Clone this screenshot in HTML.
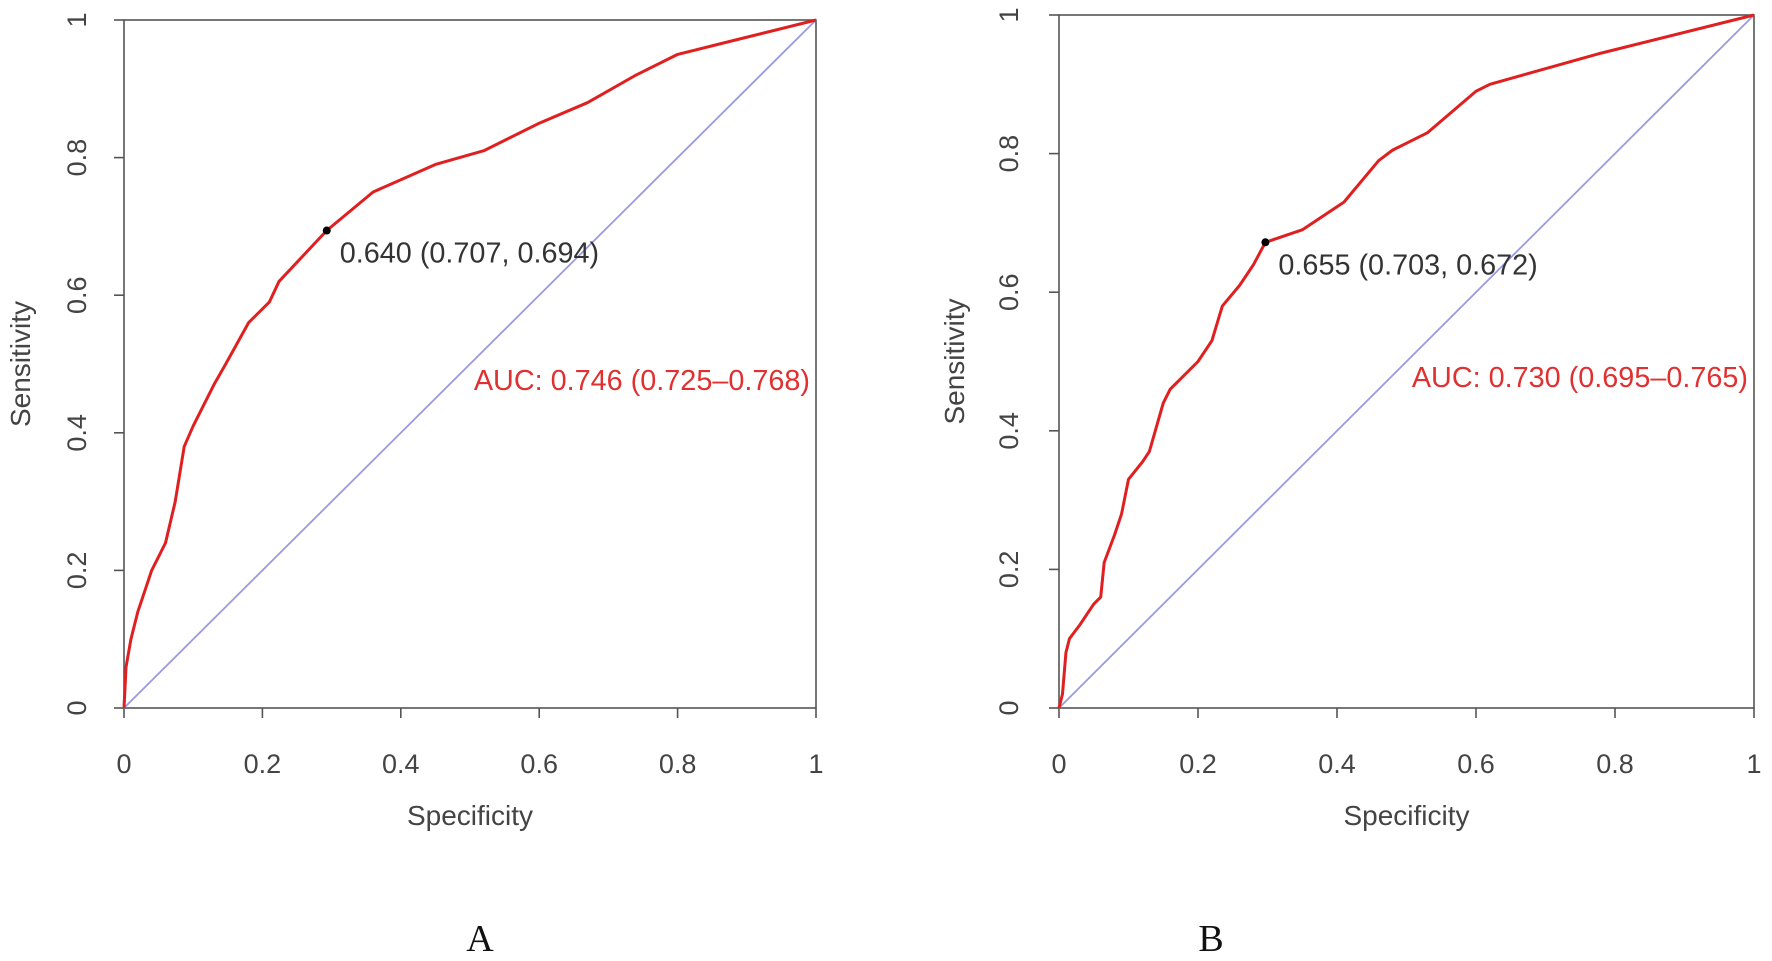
<!DOCTYPE html>
<html><head><meta charset="utf-8"><style>
body{margin:0;background:#fff}
svg{display:block}
text{font-family:"Liberation Sans",sans-serif}
</style></head><body>
<svg id="c" width="1772" height="961"></svg>
<script>
const ticks=[0,0.2,0.4,0.6,0.8,1];
const tickLabels=["0","0.2","0.4","0.6","0.8","1"];
const specA=[0,0.003,0.01,0.02,0.03,0.04,0.06,0.074,0.087,0.1,0.13,0.147,0.18,0.21,0.224,0.293,0.36,0.45,0.52,0.6,0.67,0.74,0.8,0.88,1];
const sensA=[0,0.06,0.1,0.14,0.17,0.2,0.24,0.3,0.38,0.41,0.47,0.5,0.56,0.59,0.62,0.694,0.75,0.79,0.81,0.85,0.88,0.92,0.95,0.97,1];
const specB=[0,0.005,0.01,0.015,0.03,0.05,0.06,0.065,0.08,0.09,0.1,0.12,0.13,0.15,0.16,0.2,0.22,0.235,0.26,0.28,0.297,0.35,0.41,0.46,0.48,0.53,0.6,0.62,0.78,1];
const sensB=[0,0.02,0.08,0.1,0.12,0.15,0.16,0.21,0.25,0.28,0.33,0.355,0.37,0.44,0.46,0.5,0.53,0.58,0.61,0.64,0.672,0.69,0.73,0.79,0.805,0.83,0.89,0.9,0.945,1];
const panels=[
 {id:"a",L:124,R:816,T:20,B:708,spec:specA,sens:sensA,cut:[0.293,0.694],cutText:"0.640 (0.707, 0.694)",auc:"AUC: 0.746 (0.725–0.768)",label:"A",sensX:30,tickX:86,aucY:380,lx:480},
 {id:"b",L:1059,R:1754,T:15,B:708,spec:specB,sens:sensB,cut:[0.297,0.672],cutText:"0.655 (0.703, 0.672)",auc:"AUC: 0.730 (0.695–0.765)",label:"B",sensX:964,tickX:1018,aucY:377,lx:1211}
];
const svg=document.getElementById('c');
const NS="http://www.w3.org/2000/svg";
function mk(t,a,p){const e=document.createElementNS(NS,t);for(const k in a)e.setAttribute(k,a[k]);(p||svg).appendChild(e);return e;}
panels.forEach(p=>{
 const g=mk('g',{});
 
 
 const sx=v=>p.L+v*(p.R-p.L), sy=v=>p.B-v*(p.B-p.T);
 const fr=mk('rect',{x:p.L,y:p.T,width:p.R-p.L,height:p.B-p.T,fill:'none',stroke:'#555','stroke-width':1.6},g);
 
 
 ticks.forEach((t,i)=>{
  mk('line',{x1:sx(t),x2:sx(t),y1:p.B,y2:p.B+10,stroke:'#555','stroke-width':1.6},g);
  const xt=mk('text',{x:sx(t),y:p.B+65,'font-size':27,fill:'#444','text-anchor':'middle'},g);
  xt.textContent=tickLabels[i];
  
  
  mk('line',{x1:p.L-10,x2:p.L,y1:sy(t),y2:sy(t),stroke:'#555','stroke-width':1.6},g);
  const yt=mk('text',{x:p.tickX,y:sy(t),'font-size':27,fill:'#444','text-anchor':'middle',transform:`rotate(-90 ${p.tickX} ${sy(t)})`},g);
  yt.textContent=tickLabels[i];
  
  
 });
 const xl=mk('text',{x:(p.L+p.R)/2,y:p.B+117,'font-size':28,fill:'#444','text-anchor':'middle'},g);
 xl.textContent="Specificity";
 
 
 const ymid=(p.T+p.B)/2;
 const yl=mk('text',{x:p.sensX,y:ymid,'font-size':28,fill:'#444','text-anchor':'middle',transform:`rotate(-90 ${p.sensX} ${ymid})`},g);
 yl.textContent="Sensitivity";
 
 
 const dg=mk('line',{x1:sx(0),y1:sy(0),x2:sx(1),y2:sy(1),stroke:'#9a9ae0','stroke-width':1.8},g);
 
 
 const pts=p.spec.map((v,i)=>sx(v)+','+sy(p.sens[i])).join(' ');
 const c=mk('polyline',{points:pts,fill:'none',stroke:'#e02020','stroke-width':3,'stroke-linejoin':'round'},g);
 
 
 const d=mk('circle',{cx:sx(p.cut[0]),cy:sy(p.cut[1]),r:4,fill:'#000'},g);
 
 
 const ct=mk('text',{x:sx(p.cut[0])+13,y:sy(p.cut[1])+32,'font-size':28.8,fill:'#333'},g);
 ct.textContent=p.cutText;
 
 
 const at=mk('text',{x:p.R-6,y:p.aucY+10,'font-size':28.8,fill:'#e03030','text-anchor':'end'},g);
 at.textContent=p.auc;
 
 
 const pl=mk('text',{x:p.lx,y:951,'font-size':38,fill:'#111','text-anchor':'middle'},g);
 pl.setAttribute('style','font-family:"Liberation Serif",serif');
 pl.textContent=p.label;
 
 
});
</script>
</body></html>
